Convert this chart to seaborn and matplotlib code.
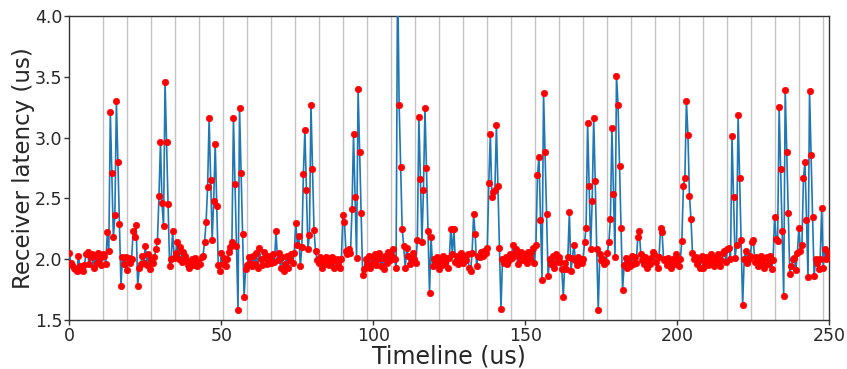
import numpy as np
import pandas as pd
import matplotlib
matplotlib.use("Agg")
import matplotlib.pyplot as plt
import seaborn as sns

# Receiver latency samples, one every 0.5 us (10 blocks of 25 us)
lat_000 = [2.05,1.97,1.95,1.93,1.92,1.90,2.03,1.94,1.91,1.90,
           1.95,2.04,2.06,1.96,2.02,2.04,1.93,2.03,1.97,2.05,
           2.01,1.95,2.04,2.03,1.96,2.22,2.07,3.21,2.71,2.18,
           2.36,3.30,2.80,2.29,1.78,2.02,1.96,2.02,1.91,2.01,
           1.97,2.00,2.23,2.18,2.28,1.78,1.93,1.96,2.03,1.97]
lat_025 = [2.11,1.95,2.04,1.92,2.00,1.97,2.02,2.08,2.15,2.52,
           2.96,2.46,2.27,3.46,2.96,2.45,1.94,2.00,2.23,2.01,
           2.05,2.14,2.00,2.10,1.98,2.06,2.03,1.99,1.95,1.93,
           1.97,2.00,1.95,2.01,1.94,1.98,1.96,2.02,2.03,2.14,
           2.31,2.59,3.16,2.65,2.16,2.48,2.95,2.44,1.95,1.90]
lat_050 = [2.05,1.96,2.01,1.94,2.00,2.06,2.10,2.14,3.16,2.62,
           2.11,1.58,3.24,2.71,2.21,1.69,1.92,1.95,2.02,1.97,
           1.94,2.03,1.96,2.05,1.93,2.09,2.00,1.95,2.06,2.01,
           1.96,2.03,2.00,1.97,2.04,1.98,2.23,1.99,2.05,1.93,
           2.02,1.90,1.96,2.03,1.93,1.99,2.04,1.97,2.05,2.30]
lat_075 = [2.12,2.19,1.94,2.10,2.70,3.06,2.57,2.08,2.20,3.27,
           2.74,2.24,2.07,1.99,1.97,2.02,1.93,2.00,1.96,2.02,
           2.01,1.95,1.98,2.02,1.93,1.99,2.00,1.96,1.93,2.00,
           2.36,2.31,2.07,2.04,2.08,2.05,2.41,3.03,2.51,2.01,
           3.40,2.88,2.38,1.87,1.92,2.00,1.96,2.03,1.93,2.02]
lat_100 = [1.97,2.04,1.95,2.00,2.05,1.94,2.01,1.92,2.03,1.97,
           2.06,1.99,2.03,2.08,2.00,1.93,4.40,3.27,2.76,2.25,
           2.11,1.93,2.09,2.03,1.96,2.01,2.05,2.00,1.97,2.16,
           3.17,2.66,2.14,2.57,3.24,2.75,2.23,1.72,2.18,1.94,
           2.00,1.96,2.02,1.92,2.00,1.95,2.03,1.97,2.01,1.93]
lat_125 = [2.01,2.25,2.04,2.25,1.98,2.03,1.96,2.01,2.05,1.97,
           2.03,1.99,2.04,1.93,1.90,2.05,2.37,2.21,1.94,2.03,
           2.02,2.06,2.03,2.07,2.05,2.09,2.63,3.03,2.51,2.55,
           2.57,3.10,2.60,2.09,1.59,2.00,1.97,2.02,1.96,1.99,
           2.04,2.01,2.12,2.05,2.08,1.96,2.02,2.06,1.99,2.04]
lat_150 = [2.02,1.97,2.06,2.01,2.06,2.09,1.97,2.12,2.69,2.84,
           2.32,1.83,3.37,2.88,2.37,1.86,2.00,1.96,2.03,1.93,
           2.04,1.98,2.02,1.98,1.92,1.69,1.97,1.92,2.02,2.39,
           1.90,2.01,2.12,1.99,1.95,2.02,2.00,1.97,2.00,2.14,
           2.26,3.12,2.60,2.08,2.48,3.16,2.64,2.08,1.58,2.04]
lat_175 = [1.99,2.00,1.96,1.98,2.05,2.14,2.33,3.08,2.54,2.02,
           3.51,3.27,2.77,2.26,1.75,1.95,2.01,1.93,1.98,1.94,
           2.03,1.96,2.02,1.97,2.18,2.23,2.04,1.99,1.96,2.02,
           1.93,1.99,1.96,2.01,2.06,2.04,1.98,1.93,2.02,2.26,
           2.22,1.99,2.00,1.95,2.01,1.97,1.93,2.00,1.96,2.04]
lat_200 = [2.00,1.94,2.00,2.15,2.60,2.67,3.30,3.02,2.52,2.33,
           2.05,2.00,2.02,1.96,1.99,1.93,2.03,1.93,1.98,2.02,
           1.95,1.99,2.04,1.97,1.94,2.01,1.98,2.04,1.94,1.99,
           2.05,2.07,1.98,2.08,2.09,2.00,3.01,2.51,2.01,2.12,
           3.19,2.67,2.16,1.62,2.00,2.07,1.97,2.00,2.03,2.14]
lat_225 = [2.16,1.98,2.02,1.94,1.99,2.03,1.97,1.93,2.01,2.02,
           1.96,2.03,1.92,1.99,2.35,2.17,2.15,3.25,2.74,2.23,
           1.70,3.39,2.88,2.38,1.88,1.94,2.00,2.01,1.91,2.05,
           2.26,2.07,2.12,2.67,2.80,2.32,1.85,3.38,2.86,2.35,
           1.86,2.00,1.97,1.92,2.00,2.42,1.93,2.08,2.00,2.05]

sample_step_us = 0.5

# Frame boundary markers (us)
frame_marks = [11.20, 19.09, 26.99, 34.88, 42.78, 50.67, 58.56, 66.46, 74.35,
               82.25, 90.14, 98.03, 105.93, 113.82, 121.72, 129.61, 137.50,
               145.40, 153.29, 161.19, 169.08, 176.97, 184.87, 192.76, 200.66,
               208.55, 216.44, 224.34, 232.23, 240.13, 248.02]

x_ticks = [0, 50, 100, 150, 200, 250]
y_ticks = [1.5, 2.0, 2.5, 3.0, 3.5, 4.0]

latency = (lat_000 + lat_025 + lat_050 + lat_075 + lat_100 +
           lat_125 + lat_150 + lat_175 + lat_200 + lat_225)
timeline = np.arange(len(latency)) * sample_step_us
df = pd.DataFrame({"Timeline": timeline, "Latency": latency})

sns.set_style("white")
plt.rcParams["font.family"] = ["DejaVu Sans"]

fig = plt.figure(figsize=(8.47, 3.69), dpi=100)
ax = fig.add_axes([0.0818, 0.1328, 0.8973, 0.8238])

for xm in frame_marks:
    ax.axvline(xm, color="#c4c4c4", lw=1.0, zorder=0)

sns.lineplot(data=df, x="Timeline", y="Latency", ax=ax, color="#1f77b4",
             lw=1.2, marker="o", markersize=4.6, markerfacecolor="red",
             markeredgecolor="red", markeredgewidth=0.5, zorder=3)

ax.set_xlim(0, 250)
ax.set_ylim(1.5, 4.0)
ax.set_xticks(x_ticks)
ax.set_yticks(y_ticks)
ax.set_xticklabels([str(t) for t in x_ticks])
ax.set_yticklabels([f"{t:.1f}" for t in y_ticks])
ax.tick_params(axis="both", labelsize=12.5, length=3.5, width=1, color="#333333",
               direction="out", bottom=True, left=True, pad=1.5)
for s in ax.spines.values():
    s.set_color("#333333")
    s.set_linewidth(1.0)

ax.set_xlabel("Timeline (us)", fontsize=17, labelpad=0)
ax.set_ylabel("Receiver latency (us)", fontsize=16.5, labelpad=0)

fig.savefig("out.png", dpi=100)
